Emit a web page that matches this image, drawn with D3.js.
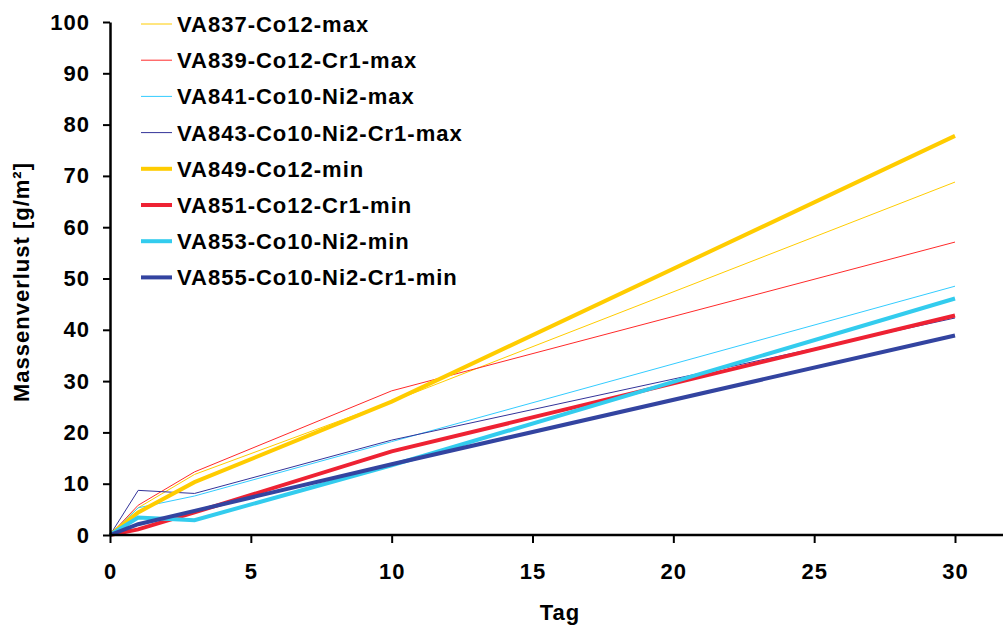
<!DOCTYPE html>
<html>
<head>
<meta charset="utf-8">
<script src="https://cdn.jsdelivr.net/npm/d3@7"></script>
<style>
  body { margin: 0; background: #fff; }
  text { font-family: "Liberation Sans", Arial, sans-serif; font-weight: bold; letter-spacing: 1px; }
</style>
</head>
<body>
<svg width="1003" height="632"></svg>
<script>
(function (d3) {
    'use strict';

    // days of measurement
    const days = [0, 1, 3, 10, 30];

    // series names and values [g/m²]
    const names = [
        'VA837-Co12-max', 'VA839-Co12-Cr1-max', 'VA841-Co10-Ni2-max', 'VA843-Co10-Ni2-Cr1-max',
        'VA849-Co12-min', 'VA851-Co12-Cr1-min', 'VA853-Co10-Ni2-min', 'VA855-Co10-Ni2-Cr1-min'
    ];
    const va837 = [0, 5.3, 11.8, 26.0, 68.8];
    const va839 = [0, 5.8, 12.3, 28.1, 57.1];
    const va841 = [0, 5.3, 7.6, 18.2, 48.5];
    const va843 = [0, 8.7, 8.1, 18.5, 42.3];
    const va849 = [0, 4.4, 10.3, 26.0, 77.8];
    const va851 = [0, 1.1, 4.4, 16.3, 42.8];
    const va853 = [0, 3.4, 2.9, 13.6, 46.1];
    const va855 = [0, 2.1, 4.7, 13.8, 38.9];
    const values = [va837, va839, va841, va843, va849, va851, va853, va855];

    const colors = ['#ffcc00', '#ff2a2a', '#33ccff', '#333399', '#ffcc00', '#ee2233', '#33ccee', '#3344a0'];
    const widths = [1, 1, 1, 1, 4, 4, 4, 4];

    const xTicks = [0, 5, 10, 15, 20, 25, 30];
    const yTicks = [0, 10, 20, 30, 40, 50, 60, 70, 80, 90, 100];

    const svg = d3.select('svg');
    const width = +svg.attr('width');
    const margin = { top: 22, left: 110 };
    const innerWidth = 845;
    const innerHeight = 513;

    const xScale = d3.scaleLinear().domain([0, 30]).range([0, innerWidth]);
    const yScale = d3.scaleLinear().domain([0, 100]).range([innerHeight, 0]);

    const g = svg.append('g')
        .attr('transform', `translate(${margin.left},${margin.top})`);

    // lines
    const line = d3.line()
        .x((d, i) => xScale(days[i]))
        .y(d => yScale(d));

    g.selectAll('path.series').data(values)
        .enter().append('path')
        .attr('class', 'series')
        .attr('d', line)
        .attr('fill', 'none')
        .attr('stroke', (d, i) => colors[i])
        .attr('stroke-width', (d, i) => widths[i])
        .attr('stroke-linejoin', 'miter');

    // y axis
    const yAxis = d3.axisLeft(yScale)
        .tickValues(yTicks)
        .tickSize(7)
        .tickSizeOuter(0)
        .tickPadding(13);
    const yG = g.append('g').call(yAxis);
    yG.select('.domain').attr('stroke', '#000').attr('stroke-width', 2.5);
    yG.selectAll('.tick line').attr('stroke', '#000').attr('stroke-width', 2);
    yG.selectAll('.tick text').attr('font-size', 22).attr('fill', '#000')
        .attr('font-family', '"Liberation Sans", Arial, sans-serif');

    // x axis
    const xAxis = d3.axisBottom(xScale)
        .tickValues(xTicks)
        .tickSize(8)
        .tickSizeOuter(0)
        .tickPadding(20);
    const xG = g.append('g').call(xAxis)
        .attr('transform', `translate(0,${innerHeight})`);
    xG.select('.domain')
        .attr('d', `M0,0H${width - margin.left}`)
        .attr('stroke', '#000').attr('stroke-width', 2.5);
    xG.selectAll('.tick line').attr('stroke', '#000').attr('stroke-width', 2);
    xG.selectAll('.tick text').attr('font-size', 22).attr('fill', '#000')
        .attr('font-family', '"Liberation Sans", Arial, sans-serif');

    // axis titles
    svg.append('text')
        .attr('x', 560)
        .attr('y', 620)
        .attr('text-anchor', 'middle')
        .attr('font-size', 22)
        .text('Tag');

    svg.append('text')
        .attr('transform', 'translate(29,282) rotate(-90)')
        .attr('text-anchor', 'middle')
        .attr('font-size', 22)
        .text('Massenverlust [g/m²]');

    // legend
    const legend = svg.append('g');
    const rows = legend.selectAll('g').data(names)
        .enter().append('g')
        .attr('transform', (d, i) => `translate(141,${24 + i * 36.2})`);
    rows.append('line')
        .attr('x1', 0).attr('x2', 31)
        .attr('stroke', (d, i) => colors[i])
        .attr('stroke-width', (d, i) => widths[i]);
    rows.append('text')
        .attr('x', 36)
        .attr('y', 8)
        .attr('font-size', 22)
        .text(d => d);
}(d3));
</script>
</body>
</html>
